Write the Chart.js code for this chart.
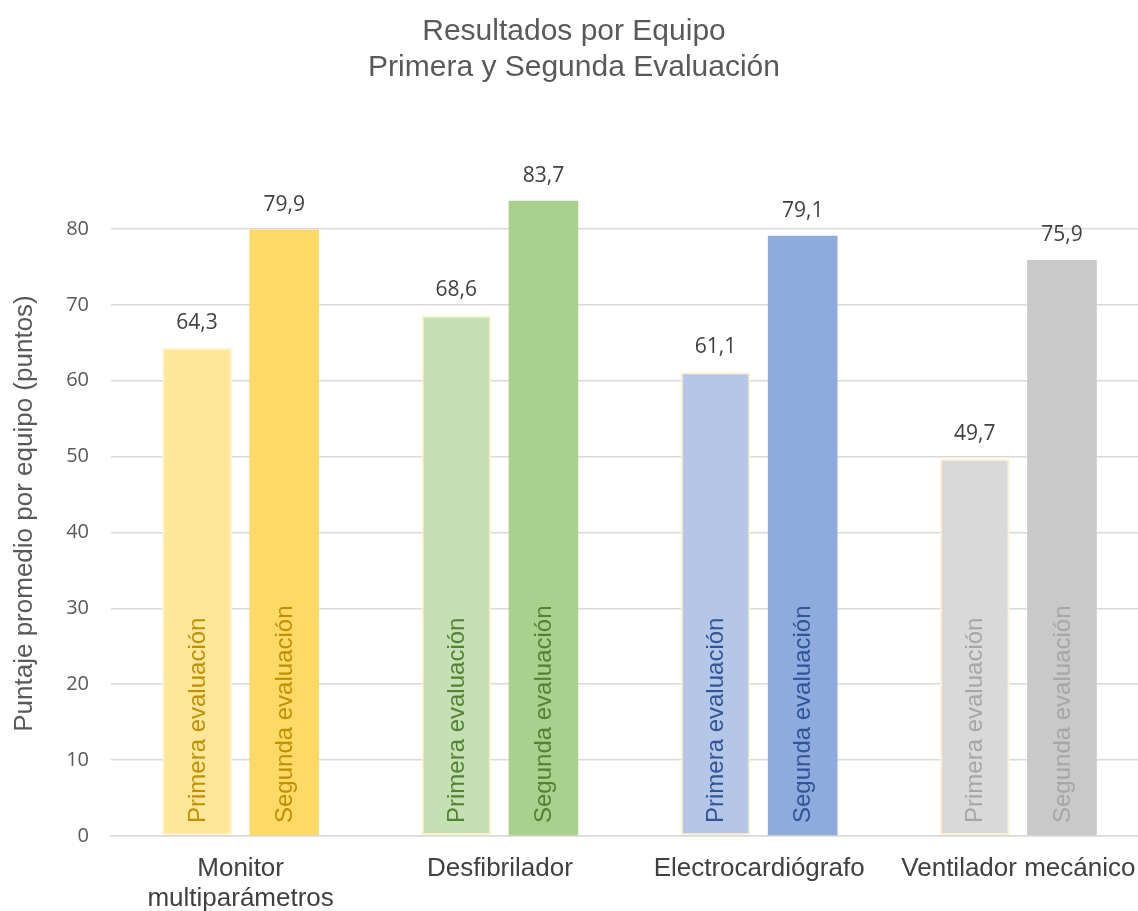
<!DOCTYPE html>
<html>
<head>
<meta charset="utf-8">
<script src="https://cdn.jsdelivr.net/npm/chart.js@4"></script>
<style>
  html, body { margin: 0; padding: 0; background: #fff; }
  #wrap { width: 1138px; height: 911px; overflow: hidden; }
</style>
</head>
<body>
<div id="wrap"><canvas id="scoreChart" width="1148" height="911"></canvas></div>
<script>
// --- data ---
const equipos = [['Monitor', 'multiparámetros'], 'Desfibrilador', 'Electrocardiógrafo', 'Ventilador mecánico'];
const primera = [64.3, 68.6, 61.1, 49.7];
const segunda = [79.9, 83.7, 79.1, 75.9];
const serieNombres = ['Primera evaluación', 'Segunda evaluación'];

// one colour set per equipment: light bar, dark bar, text inside
const colPrimera = ['#FFE699', '#C5E0B4', '#B4C7E7', '#D9D9D9'];
const colSegunda = ['#FFD966', '#A9D18E', '#8FAADC', '#C9C9C9'];
const colTexto = ['#BF9000', '#548235', '#2F5597', '#A6A6A6'];

const fmt = v => v.toFixed(1).replace('.', ',');

// value on top of every bar + series name written upright inside it
const barLabels = {
    id: 'barLabels',
    afterDatasetsDraw(chart) {
        const c = chart.ctx;
        const base = chart.scales.y.getPixelForValue(0);
        chart.data.datasets.forEach((ds, di) => {
            chart.getDatasetMeta(di).data.forEach((bar, i) => {
                c.save();
                c.fillStyle = '#404040';
                c.font = '21px "Open Sans"';
                c.textAlign = 'center';
                c.textBaseline = 'middle';
                c.fillText(fmt(ds.data[i]), bar.x, bar.y - 25);

                c.translate(bar.x, base - 13);
                c.rotate(-Math.PI / 2);
                c.fillStyle = colTexto[i];
                c.font = '24px "Liberation Sans", Arial';
                c.textAlign = 'left';
                c.textBaseline = 'middle';
                c.fillText(serieNombres[di], 0, 1);
                c.restore();
            });
        });
    }
};

const ctx = document.getElementById('scoreChart').getContext('2d');
const scoreChart = new Chart(ctx, {
    type: 'bar',
    data: {
        labels: equipos,
        datasets: [{
            label: serieNombres[0],
            data: primera,
            backgroundColor: colPrimera,
            borderColor: '#FFF2CC',
            borderWidth: 2,
            borderSkipped: false
        }, {
            label: serieNombres[1],
            data: segunda,
            backgroundColor: colSegunda,
            borderWidth: 0
        }]
    },
    options: {
        responsive: false,
        animation: false,
        layout: { padding: { top: 14, right: 0, left: 0, bottom: 0 } },
        datasets: {
            bar: { categoryPercentage: 0.672, barPercentage: 0.8 }
        },
        plugins: {
            legend: { display: false },
            tooltip: { enabled: false },
            title: {
                display: true,
                text: ['Resultados por Equipo', 'Primera y Segunda Evaluación'],
                color: '#595959',
                font: { family: '"Liberation Sans", Arial', size: 30, weight: 'normal', lineHeight: 1.2 },
                padding: { top: 0, bottom: 105 }
            }
        },
        scales: {
            y: {
                min: 0,
                max: 85,
                afterBuildTicks: s => { s.ticks = s.ticks.filter(t => t.value % 10 === 0); },
                afterFit: s => { s.width = 111; },
                ticks: {
                    stepSize: 10,
                    color: '#595959',
                    padding: 22,
                    font: { family: '"Open Sans"', size: 20 }
                },
                grid: { color: '#D9D9D9', lineWidth: 1.5, drawTicks: false },
                border: { display: false },
                title: {
                    display: true,
                    text: 'Puntaje promedio por equipo (puntos)',
                    color: '#595959',
                    font: { family: '"Liberation Sans", Arial', size: 26 },
                    padding: { top: 9, bottom: 0 }
                }
            },
            x: {
                afterFit: s => { s.height = 75; },
                ticks: {
                    color: '#404040',
                    padding: 10,
                    font: { family: '"Liberation Sans", Arial', size: 26, lineHeight: 1.15 },
                    maxRotation: 0,
                    autoSkip: false
                },
                grid: { display: false },
                border: { color: '#D9D9D9', width: 1.5 }
            }
        }
    },
    plugins: [barLabels]
});
</script>
</body>
</html>
